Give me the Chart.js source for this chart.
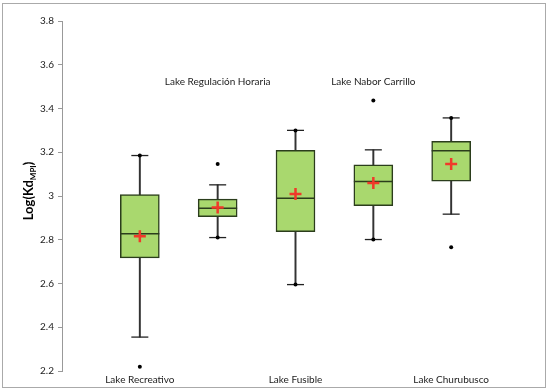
<!DOCTYPE html>
<html lang="en">
<head>
<meta charset="UTF-8">
<title>Log(Kd MPI) by lake</title>
<script src="https://cdn.jsdelivr.net/npm/chart.js"></script>
<style>
  body { margin: 0; background: #fff; }
  #wrap { position: relative; width: 550px; height: 392px; }
</style>
</head>
<body>
<div id="wrap"><canvas id="myChart" width="550" height="392"></canvas></div>
<script>
// lakes, in order along x (positions 1..5)
const lakes = ['Lake Recreativo', 'Lake Regulación Horaria', 'Lake Fusible', 'Lake Nabor Carrillo', 'Lake Churubusco'];
const positions = [1, 2, 3, 4, 5];
// box statistics
const whiskerLow  = [2.355, 2.810, 2.595, 2.801, 2.917];
const q1          = [2.717, 2.905, 2.837, 2.956, 3.068];
const median      = [2.827, 2.944, 2.990, 3.066, 3.207];
const q3          = [3.006, 2.986, 3.209, 3.142, 3.250];
const whiskerHigh = [3.185, 3.051, 3.300, 3.211, 3.357];
const mean        = [2.816, 2.947, 3.009, 3.059, 3.146];
// single dots: outliers and marked whisker ends
const dotX = [1, 1, 2, 2, 3, 3, 4, 4, 5, 5];
const dotY = [3.185, 2.219, 3.146, 2.810, 3.300, 2.595, 3.437, 2.801, 3.357, 2.766];
const yTicks = [2.2, 2.4, 2.6, 2.8, 3, 3.2, 3.4, 3.6, 3.8];

const font = 'Lato, "Open Sans", sans-serif';
const boxFill = '#a9d86e';
const boxLine = '#2b3d1c';

const pts = (ys) => positions.map((x, i) => ({ x: x, y: ys[i] }));

// labels written inside the plot for the lakes whose name is not on the axis
const lakeLabels = {
  id: 'lakeLabels',
  afterDraw(chart) {
    const { ctx, scales } = chart;
    ctx.save();
    ctx.font = '10px ' + font;
    ctx.fillStyle = '#222';
    ctx.textAlign = 'center';
    ctx.textBaseline = 'middle';
    positions.forEach((p, i) => {
      if (i % 2 === 1) {
        ctx.fillText(lakes[i], scales.x.getPixelForValue(p), scales.y.getPixelForValue(3.524));
      }
    });
    // y title with subscript
    ctx.translate(28, 191);
    ctx.rotate(-Math.PI / 2);
    ctx.fillStyle = '#000';
    ctx.textAlign = 'left';
    ctx.textBaseline = 'alphabetic';
    const big = 'bold 13px ' + font, small = 'bold 8px ' + font;
    ctx.font = big;
    const w1 = ctx.measureText('Log(Kd').width, w3 = ctx.measureText(')').width;
    ctx.font = small;
    const w2 = ctx.measureText('MPI').width;
    let x = -(w1 + w2 + w3) / 2;
    ctx.font = big; ctx.fillText('Log(Kd', x, 5); x += w1;
    ctx.font = small; ctx.fillText('MPI', x, 8); x += w2;
    ctx.font = big; ctx.fillText(')', x, 5);
    ctx.restore();
  },
  beforeDraw(chart) {
    const { ctx } = chart;
    ctx.save();
    ctx.strokeStyle = '#aaa';
    ctx.lineWidth = 1;
    ctx.strokeRect(2.5, 3.5, 543, 384);
    ctx.restore();
  }
};

const ctx = document.getElementById('myChart').getContext('2d');
new Chart(ctx, {
  type: 'bar',
  data: {
    datasets: [
      { // whisker stems
        type: 'bar',
        data: positions.map((x, i) => ({ x: x, y: [whiskerLow[i], whiskerHigh[i]] })),
        backgroundColor: '#333',
        barThickness: 1.3,
        grouped: false,
        order: 10
      },
      { // boxes
        type: 'bar',
        data: positions.map((x, i) => ({ x: x, y: [q1[i], q3[i]] })),
        backgroundColor: boxFill,
        borderColor: boxLine,
        borderWidth: 1.5,
        borderSkipped: false,
        barThickness: 39,
        grouped: false,
        order: 9
      },
      { // medians
        type: 'scatter',
        data: pts(median),
        pointStyle: 'line',
        pointRadius: 19.5,
        borderColor: boxLine,
        borderWidth: 1.5,
        order: 5
      },
      { // whisker caps
        type: 'scatter',
        data: pts(whiskerLow).concat(pts(whiskerHigh)),
        pointStyle: 'line',
        pointRadius: 8.5,
        borderColor: '#222',
        borderWidth: 1.3,
        order: 6
      },
      { // means
        type: 'scatter',
        data: pts(mean),
        pointStyle: 'cross',
        pointRadius: 6,
        borderColor: '#f03a2a',
        borderWidth: 2.5,
        order: 1
      },
      { // dots
        type: 'scatter',
        data: dotX.map((x, i) => ({ x: x, y: dotY[i] })),
        pointStyle: 'circle',
        pointRadius: 2,
        backgroundColor: '#000',
        borderColor: '#000',
        borderWidth: 0,
        order: 2
      }
    ]
  },
  options: {
    responsive: false,
    animation: false,
    layout: { padding: { top: 18, right: 18, bottom: 0, left: 0 } },
    plugins: { legend: { display: false }, tooltip: { enabled: false } },
    scales: {
      x: {
        type: 'linear',
        offset: false,
        min: 0,
        max: 6,
        border: { display: false },
        grid: { display: false },
        afterBuildTicks: (axis) => { axis.ticks = positions.map(v => ({ value: v })); },
        afterFit: (axis) => { axis.height = 20; },
        ticks: {
          padding: -5,
          autoSkip: false,
          maxRotation: 0,
          color: '#222',
          font: { family: font, size: 10 },
          callback: (v) => { const i = positions.indexOf(v); return i % 2 === 0 ? lakes[i] : ''; }
        }
      },
      y: {
        min: 2.2,
        max: 3.8,
        border: { display: true, color: '#999', width: 1 },
        grid: { drawOnChartArea: false, tickLength: 4, color: '#999' },
        afterBuildTicks: (axis) => { axis.ticks = yTicks.map(v => ({ value: v })); },
        afterFit: (axis) => { axis.width = 62; },
        ticks: {
          padding: 4,
          color: '#222',
          font: { family: font, size: 10 },
          callback: (v) => String(+v.toFixed(1))
        }
      }
    }
  },
  plugins: [lakeLabels]
});
</script>
</body>
</html>
